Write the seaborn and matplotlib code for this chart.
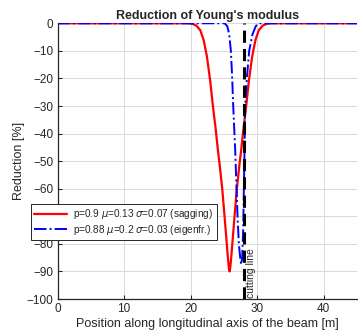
import numpy as np
import pandas as pd
import seaborn as sns
import matplotlib.pyplot as plt

# values
pos_sag = [0, 19.65, 20.25, 20.85, 21.45, 21.95, 22.45, 22.95, 23.35, 23.75, 24.1, 24.35,
           24.75, 25.1, 25.4, 25.6, 25.75, 25.85, 25.95, 26.1, 26.3, 26.6, 26.95, 27.35,
           27.6, 27.95, 28.35, 28.75, 29.25, 29.75, 30.25, 30.85, 31.45, 32.05, 45]
red_sag = [0, 0, -0.2, -0.8, -2.5, -6, -12, -21, -30, -38, -46, -51, -60, -70, -79, -85,
           -88.8, -90, -88.8, -85, -79, -70, -60, -51, -46, -38, -30, -21, -12, -6, -2.5,
           -0.8, -0.2, 0, 0]

pos_eig = [0, 25.1, 25.5, 25.8, 26.05, 26.25, 26.4, 26.7, 26.9, 27.05, 27.25, 27.45, 27.6,
           27.75, 27.9, 28.0, 28.1, 28.2, 28.45, 28.8, 29.3, 29.8, 30.2, 45]
red_eig = [0, 0, -1, -4, -10, -20, -30, -46, -60, -70, -80, -85, -87.5,
           -85, -75, -60, -46, -30, -20, -10, -4, -1, 0, 0]

labels = ['p=0.9 $\\mu$=0.13 $\\sigma$=0.07 (sagging)',
          'p=0.88 $\\mu$=0.2 $\\sigma$=0.03 (eigenfr.)']
cut_pos = 28

sns.set_style("whitegrid")
plt.rcParams['font.family'] = ['Liberation Sans', 'DejaVu Sans']
plt.rcParams['mathtext.fontset'] = 'dejavusans'

df_sag = pd.DataFrame({'pos': pos_sag, 'red': red_sag})
df_eig = pd.DataFrame({'pos': pos_eig, 'red': red_eig})

fig = plt.figure(figsize=(3.58, 3.35), dpi=100)
ax = fig.add_axes([57.5 / 358, 1 - 299 / 335, 299.5 / 358, 275.7 / 335])

sns.lineplot(data=df_sag, x='pos', y='red', ax=ax, color='#ff0000', linewidth=1.6,
             label=labels[0], sort=False)
sns.lineplot(data=df_eig, x='pos', y='red', ax=ax, color='#0000ff', linewidth=1.4,
             linestyle='-.', label=labels[1], sort=False)
ax.axvline(cut_pos, color='black', linestyle=(0, (4, 2)), linewidth=2.2)
ax.text(cut_pos + 0.35, -99.5, 'cutting line', rotation=90, ha='left', va='bottom',
        fontsize=7.5, color='#262626')

ax.set_xlim(0, 45)
ax.set_ylim(-100, 0)
ax.set_xticks([0, 10, 20, 30, 40])
ax.set_yticks(np.arange(-100, 1, 10))
ax.grid(True, color='#d9d9d9', linewidth=0.7)
ax.tick_params(direction='in', length=3, width=0.8, labelsize=8.5, colors='#262626',
               pad=3, left=True, bottom=True)
for s in ['top', 'right']:
    ax.spines[s].set_visible(False)
for s in ['left', 'bottom']:
    ax.spines[s].set_color('#262626')
    ax.spines[s].set_linewidth(0.9)

ax.set_title("Reduction of Young's modulus", fontsize=9, fontweight='bold', pad=3)
ax.set_xlabel('Position along longitudinal axis of the beam [m]', fontsize=9,
              color='#262626', labelpad=2)
ax.set_ylabel('Reduction [%]', fontsize=9, color='#262626', labelpad=1)

leg = ax.legend(loc='upper left', bbox_to_anchor=(-0.09, 0.345), borderaxespad=0,
                fontsize=7.2, frameon=True, fancybox=False, handlelength=3.3,
                borderpad=0.35, labelspacing=0.15, handletextpad=0.6)
leg.get_frame().set_edgecolor('#262626')
leg.get_frame().set_linewidth(0.7)
leg.get_frame().set_alpha(1)

fig.savefig('out.png', dpi=100)
